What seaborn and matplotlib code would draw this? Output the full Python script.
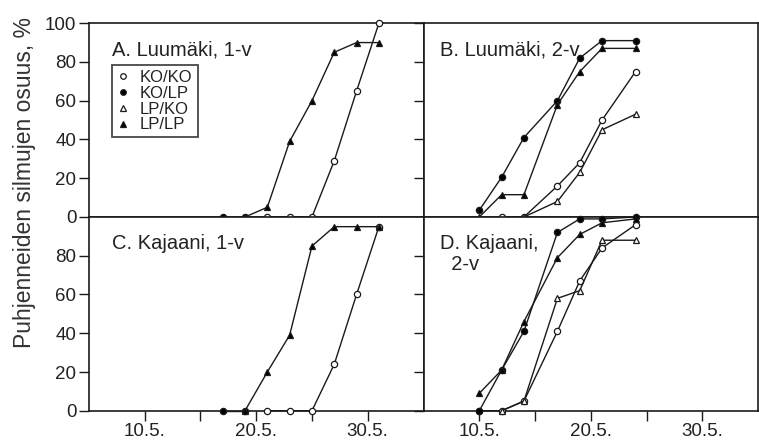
import numpy as np
import pandas as pd
import matplotlib
matplotlib.use("Agg")
import matplotlib.pyplot as plt
from matplotlib.lines import Line2D
import seaborn as sns

nan = np.nan

# päivät toukokuussa
days_1v = [17, 19, 21, 23, 25, 27, 29, 31]
days_2v = [10, 12, 14, 17, 19, 21, 24]

# A. Luumäki, 1-v
A_KOKO = [nan, nan, 0, 0, 0, 29, 65, 100]
A_KOLP = [0, 0, nan, nan, nan, nan, nan, nan]
A_LPLP = [nan, 0, 5, 39, 60, 85, 90, 90]

# B. Luumäki, 2-v
B_KOKO = [nan, 0, 0, 16, 28, 50, 75]
B_KOLP = [3.5, 20.5, 41, 60, 82, 91, 91]
B_LPKO = [nan, nan, 0, 8, 23, 45, 53]
B_LPLP = [0, 11.5, 11.5, 58, 75, 87, 87]

# C. Kajaani, 1-v
C_KOKO = [nan, nan, 0, 0, 0, 24, 60, 95]
C_KOLP = [0, 0, nan, nan, nan, nan, nan, nan]
C_LPLP = [nan, 0, 20, 39, 85, 95, 95, 95]

# D. Kajaani, 2-v
D_KOKO = [0, 0, 5, 41, 67, 84, 96]
D_KOLP = [0, 21, 41, 92, 99, 99, 100]
D_LPKO = [nan, 0, 5, 58, 62, 88, 88]
D_LPLP = [9, 21, 46, 79, 91, 97, 99]

series_names = ["KO/KO", "KO/LP", "LP/KO", "LP/LP"]
xticks = [10, 15, 20, 25, 30]
xtick_labels = ["10.5.", "", "20.5.", "", "30.5."]

styles = {
    "KO/KO": dict(marker="o", markerfacecolor="white", markersize=4.5),
    "KO/LP": dict(marker="o", markerfacecolor="black", markersize=4.5),
    "LP/KO": dict(marker="^", markerfacecolor="white", markersize=4.8),
    "LP/LP": dict(marker="^", markerfacecolor="black", markersize=4.8),
}

sns.set_style("ticks")
plt.rcParams["font.family"] = ["Liberation Sans", "DejaVu Sans"]

fig, axes = plt.subplots(2, 2, figsize=(7.59, 4.46), dpi=100)
fig.subplots_adjust(left=0.117, right=0.999, top=0.948, bottom=0.079, wspace=0, hspace=0)

panels = [
    (axes[0, 0], days_1v, {"KO/KO": A_KOKO, "KO/LP": A_KOLP, "LP/LP": A_LPLP}, "A. Luumäki, 1-v"),
    (axes[0, 1], days_2v, {"KO/KO": B_KOKO, "KO/LP": B_KOLP, "LP/KO": B_LPKO, "LP/LP": B_LPLP}, "B. Luumäki, 2-v"),
    (axes[1, 0], days_1v, {"KO/KO": C_KOKO, "KO/LP": C_KOLP, "LP/LP": C_LPLP}, "C. Kajaani, 1-v"),
    (axes[1, 1], days_2v, {"KO/KO": D_KOKO, "KO/LP": D_KOLP, "LP/KO": D_LPKO, "LP/LP": D_LPLP}, "D. Kajaani,\n  2-v"),
]

for i, (ax, days, data, title) in enumerate(panels):
    for name in series_names:
        if name not in data:
            continue
        df = pd.DataFrame({"day": days, "pct": data[name]}).dropna()
        sns.lineplot(data=df, x="day", y="pct", ax=ax, color="#1a1a1a", linewidth=1.0,
                     markeredgecolor="#1a1a1a", markeredgewidth=0.9, clip_on=False,
                     zorder=3, **styles[name])
    ax.set_xlim(5, 35)
    ax.set_ylim(0, 100)
    ax.set_xlabel("")
    ax.set_ylabel("")
    ax.set_xticks(xticks)
    row, col = divmod(i, 2)
    if row == 0:
        ax.set_yticks([0, 20, 40, 60, 80, 100])
        ax.set_xticklabels([])
    else:
        ax.set_yticks([0, 20, 40, 60, 80])
        ax.set_xticklabels(xtick_labels)
    if col == 1:
        ax.set_yticklabels([])
    for s in ax.spines.values():
        s.set_visible(True)
        s.set_linewidth(1.2)
        s.set_color("#1a1a1a")
    ax.tick_params(direction="out", length=7, width=1, color="#1a1a1a",
                   labelsize=13.5, labelcolor="#222222", pad=2)
    ax.tick_params(axis="x", pad=1.5)
    ax.text(0.07 if col == 0 else 0.05, 0.91, title, transform=ax.transAxes,
            fontsize=14.5, color="#222222", va="top", ha="left", linespacing=1.1)

handles = [Line2D([], [], linestyle="none", color="#1a1a1a", markeredgecolor="#1a1a1a",
                  markeredgewidth=0.9, marker=styles[n]["marker"],
                  markerfacecolor=styles[n]["markerfacecolor"], markersize=4)
           for n in series_names]
leg = axes[0, 0].legend(handles, series_names, loc="upper left", bbox_to_anchor=(0.068, 0.785),
                        fontsize=12, frameon=True, fancybox=False, handlelength=0.8,
                        handletextpad=0.6, borderpad=0.3, labelspacing=0.05,
                        borderaxespad=0)
leg.get_frame().set_edgecolor("#1a1a1a")
leg.get_frame().set_linewidth(1.3)
for t in leg.get_texts():
    t.set_color("#222222")

fig.text(0.032, 0.59, "Puhjenneiden silmujen osuus, %", rotation=90, fontsize=16.5,
         color="#333333", ha="center", va="center")

fig.savefig("out.png", dpi=100)
